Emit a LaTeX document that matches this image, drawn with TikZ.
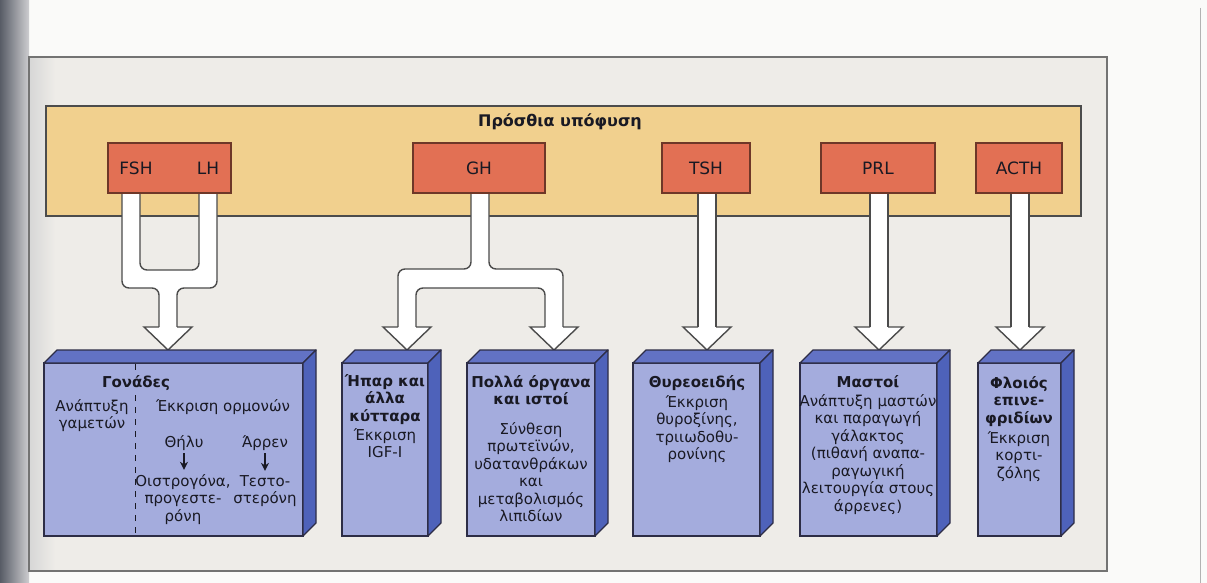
\documentclass[tikz,border=0pt]{standalone}
\usepackage{fontspec}
\setmainfont{DejaVu Sans}
\usetikzlibrary{arrows.meta,calc}
\definecolor{pagebg}{RGB}{250,250,249}
\definecolor{framebg}{RGB}{238,236,232}
\definecolor{frameline}{RGB}{115,115,115}
\definecolor{bannerc}{RGB}{241,208,142}
\definecolor{hormc}{RGB}{226,112,84}
\definecolor{hormline}{RGB}{110,55,40}
\definecolor{frontc}{RGB}{164,172,221}
\definecolor{topc}{RGB}{98,114,196}
\definecolor{sidec}{RGB}{78,98,186}
\definecolor{boxline}{RGB}{45,45,70}
\definecolor{arrowline}{RGB}{75,75,75}
\definecolor{txt}{RGB}{25,25,35}
\definecolor{shadeA}{RGB}{88,92,102}
\definecolor{shadeB}{RGB}{205,205,208}
\definecolor{shadeC}{RGB}{214,214,214}
\tikzset{
  bannerbox/.style={fill=bannerc, draw=gray!60!black, line width=1.3pt},
  horm/.style={fill=hormc, draw=hormline, line width=1.2pt, font=\fontsize{17}{20}\selectfont, text=txt, minimum height=50pt, inner sep=0pt},
  hlabel/.style={font=\fontsize{17}{20}\selectfont, text=txt, inner sep=0pt},
  arrstroke/.style={draw=arrowline, line width=1.4pt, rounded corners=7pt},
  arrfill/.style={fill=white, rounded corners=7pt},
  arrhead/.style={fill=white, draw=arrowline, line width=1.4pt, line join=miter},
  frontf/.style={fill=frontc, draw=boxline, line width=1.3pt},
  topf/.style={fill=topc, draw=boxline, line width=1.3pt, line join=round},
  sidef/.style={fill=sidec, draw=boxline, line width=1.3pt, line join=round},
  ttl/.style={font=\fontsize{15}{17.5}\selectfont\bfseries, text=txt, align=center, anchor=base, inner sep=0pt},
  bdy/.style={font=\fontsize{15}{17.5}\selectfont, text=txt, align=center, anchor=base, inner sep=0pt},
  smallarr/.style={-{Stealth[length=8pt,width=8pt]}, line width=1.5pt, draw=txt, shorten <=3pt, shorten >=4pt},
  dividerline/.style={draw=txt, line width=1pt, dash pattern=on 6pt off 6pt},
}
\newcommand\headat[2]{\filldraw[arrhead] ({#1-9},{#2-23}) -- ({#1-24},{#2-23}) -- (#1,#2) -- ({#1+24},{#2-23}) -- ({#1+9},{#2-23});}
\newcommand\straightarr[1]{%
  \fill[white] ({#1-9},186) rectangle ({#1+9},335);
  \draw[arrstroke] ({#1-9},193) -- ({#1-9},327);
  \draw[arrstroke] ({#1+9},193) -- ({#1+9},327);
  \headat{#1}{350}}
\newcommand\prism[3]{%
  \filldraw[frontf] (#2,363) rectangle (#3,536);
  \coordinate (#1) at ({(#2+#3)/2},363);
  \filldraw[topf] (#2,363) -- ({#2+13},350) -- ({#3+13},350) -- (#3,363) -- cycle;
  \filldraw[sidef] (#3,363) -- ({#3+13},350) -- ({#3+13},523) -- (#3,536) -- cycle;}
\begin{document}
\begin{tikzpicture}[x=1pt,y=-1pt]
\useasboundingbox (0,0) rectangle (1207,583);
\fill[pagebg] (0,0) rectangle (1207,583);
\shade[left color=shadeA, right color=shadeB] (0,0) rectangle (29,583);
\fill[framebg] (29,57) rectangle (1107,571);
\shade[left color=shadeC, right color=framebg] (29,57) rectangle (55,571);
\draw[frameline, line width=1.5pt] (29,57) rectangle (1107,571);
\draw[gray!60, line width=1pt] (1200,8) -- (1200,583);
% banner
\filldraw[bannerbox] (46,106) rectangle (1081,216);
\node[font=\fontsize{16}{19}\selectfont\bfseries, text=txt] (title) at (560,122) {Πρόσθια υπόφυση};
% FSH/LH fork arrow
\fill[arrfill] (122,186) -- (122,288) -- (159,288) -- (159,335) -- (177,335) -- (177,288) -- (217,288) -- (217,186) -- (199,186) -- (199,270) -- (140,270) -- (140,186) -- cycle;
\draw[arrstroke] (122,193) -- (122,288) -- (159,288) -- (159,327);
\draw[arrstroke] (177,327) -- (177,288) -- (217,288) -- (217,193);
\draw[arrstroke] (199,193) -- (199,270) -- (140,270) -- (140,193);
\headat{168}{350}
% GH fork arrow
\fill[arrfill] (471,186) -- (471,269) -- (398,269) -- (398,335) -- (416,335) -- (416,288) -- (545,288) -- (545,335) -- (563,335) -- (563,269) -- (489,269) -- (489,186) -- cycle;
\draw[arrstroke] (471,193) -- (471,269) -- (398,269) -- (398,327);
\draw[arrstroke] (416,327) -- (416,288) -- (545,288) -- (545,327);
\draw[arrstroke] (563,327) -- (563,269) -- (489,269) -- (489,193);
\headat{407}{350}
\headat{554}{350}
% single arrows
\straightarr{707}
\straightarr{879}
\straightarr{1020}
% hormone boxes
\node[horm, minimum width=123pt] (fshlh) at (169.5,168) {};
\node[hlabel] (fsh) at (136,168) {FSH};
\node[hlabel] (lh) at (208,168) {LH};
\node[horm, minimum width=132pt] (gh) at (479,168) {GH};
\node[horm, minimum width=88pt] (tsh) at (706,168) {TSH};
\node[horm, minimum width=114pt] (prl) at (878,168) {PRL};
\node[horm, minimum width=86pt] (acth) at (1019,168) {ACTH};
% target boxes
\prism{gon}{44}{303}
\prism{liv}{342}{428}
\prism{org}{467}{595}
\prism{thy}{633}{760}
\prism{mas}{800}{937}
\prism{adr}{978}{1061}
% gonads (base anchor = baseline of last line)
\draw[dividerline] (135,364) -- (135,372);
\draw[dividerline] (135,395) -- (135,535);
\node[ttl] (gont) at (136,387) {Γονάδες};
\node[bdy] (gonl) at (92,428.5) {Ανάπτυξη\\γαμετών};
\node[bdy] (gonr) at (223,411) {Έκκριση ορμονών};
\node[bdy] (thil) at (184,447) {Θήλυ};
\node[bdy] (arr) at (265,447) {Άρρεν};
\node[bdy] (oist) at (183,521) {Οιστρογόνα,\\προγεστε-\\ρόνη};
\node[bdy] (test) at (265,503.5) {Τεστο-\\στερόνη};
\draw[smallarr] (thil.south) -- (thil.south |- oist.north);
\draw[smallarr] (arr.south) -- (arr.south |- test.north);
% liver
\node[ttl] (livt) at (385,421) {Ήπαρ και\\άλλα\\κύτταρα};
\node[bdy] (livb) at (385,457.5) {Έκκριση\\IGF-I};
% organs
\node[ttl] (orgt) at (531,404.5) {Πολλά όργανα\\και ιστοί};
\node[bdy] (orgb) at (531,521.5) {Σύνθεση\\πρωτεϊνών,\\υδατανθράκων\\και\\μεταβολισμός\\λιπιδίων};
% thyroid
\node[ttl] (thyt) at (697,387) {Θυρεοειδής};
\node[bdy] (thyb) at (697,459.5) {Έκκριση\\θυροξίνης,\\τριιωδοθυ-\\ρονίνης};
% breasts
\node[ttl] (mast) at (868,387) {Μαστοί};
\node[bdy] (masb) at (868,511) {Ανάπτυξη μαστών\\και παραγωγή\\γάλακτος\\(πιθανή αναπα-\\ραγωγική\\λειτουργία στους\\άρρενες)};
% adrenal
\node[ttl] (adrt) at (1019,423) {Φλοιός\\επινε-\\φριδίων};
\node[bdy] (adrb) at (1019,478) {Έκκριση\\κορτι-\\ζόλης};
\end{tikzpicture}
\end{document}
